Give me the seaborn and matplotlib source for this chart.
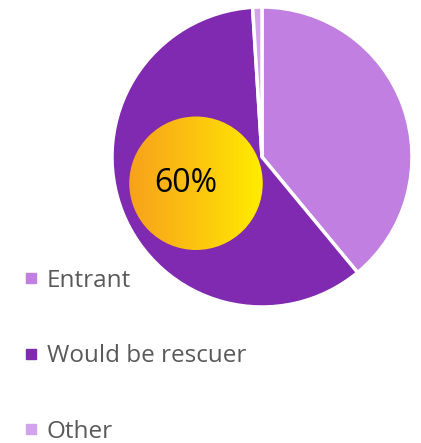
import numpy as np
import matplotlib
matplotlib.use("Agg")
import matplotlib.pyplot as plt
from matplotlib.patches import Circle
from matplotlib.lines import Line2D
from matplotlib.colors import LinearSegmentedColormap
import seaborn as sns

categories = ["Entrant", "Would be rescuer", "Other"]
values = [39, 60, 1]
colors = ["#C07FE1", "#8029B1", "#D2A2EC"]
highlight_label = "60%"

sns.set_theme(style="white")
plt.rcParams["font.family"] = ["Open Sans", "DejaVu Sans"]

fig = plt.figure(figsize=(4.21, 4.43), dpi=100)
ax = fig.add_axes([112 / 421, (443 - 307) / 443, 300 / 421, 300 / 443])

ax.pie(values, colors=colors, startangle=90, counterclock=False, radius=1,
       wedgeprops=dict(edgecolor="white", linewidth=2.5))
ax.axis("off")

# golden highlight circle with horizontal gradient
cx, cy, r = -0.44, -0.175, 0.445
cmap = LinearSegmentedColormap.from_list("gold", ["#F7A21B", "#FCC40F", "#FFEC00"])
grad = np.linspace(0, 1, 256).reshape(1, -1)
im = ax.imshow(grad, cmap=cmap, extent=[cx - r, cx + r, cy - r, cy + r],
               aspect="auto", zorder=3, interpolation="bicubic")
clip = Circle((cx, cy), r, transform=ax.transData)
im.set_clip_path(clip)
ax.set_xlim(-1, 1)
ax.set_ylim(-1, 1)
ax.set_aspect("auto")
ax.text(-0.51, -0.18, highlight_label, ha="center", va="center", fontsize=23,
        color="black", zorder=4)

handles = [Line2D([0], [0], marker="s", linestyle="none", markersize=7.5,
                  markerfacecolor=c, markeredgecolor=c) for c in colors]
fig.legend(handles, categories, loc="upper left",
           bbox_to_anchor=(0.033, (443 - 259) / 443), frameon=False,
           fontsize=17.5, labelcolor="#595959", handlelength=0.6,
           handletextpad=0.35, labelspacing=2.12, borderaxespad=0)

fig.savefig("out.png", dpi=100)
